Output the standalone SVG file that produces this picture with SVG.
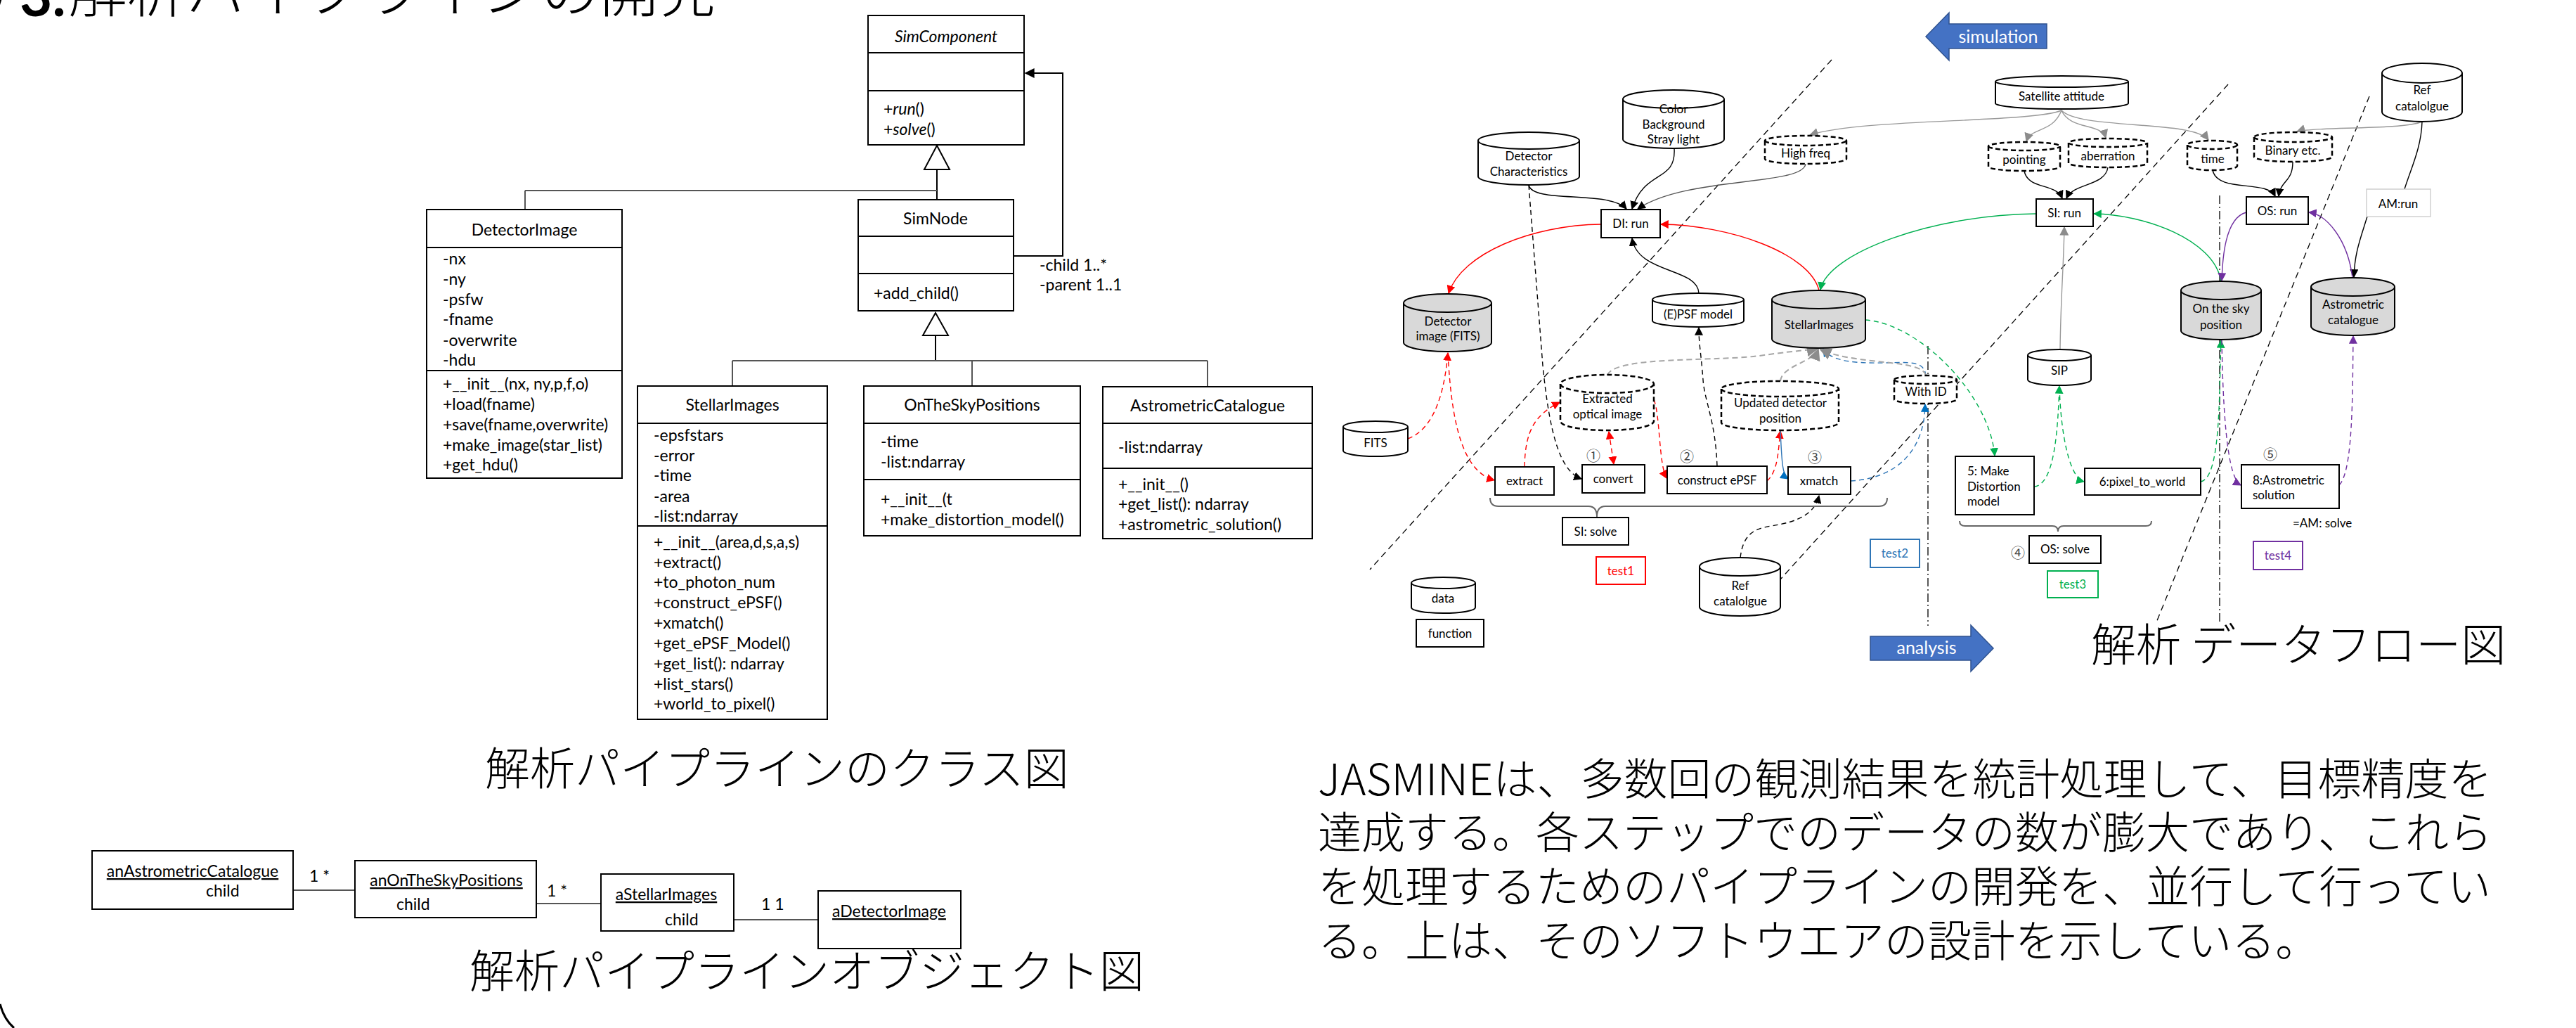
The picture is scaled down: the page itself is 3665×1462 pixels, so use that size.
<svg xmlns="http://www.w3.org/2000/svg" width="3665" height="1462" viewBox="0 0 3665 1462">
<defs>
  <style>
    .bx{fill:#fff;stroke:#000;stroke-width:2}
    .ln{fill:none;stroke:#000;stroke-width:2}
    .cy{fill:#fff;stroke:#000;stroke-width:2}
    .cg{fill:#D9D9D9}
    .cd{stroke-dasharray:7 4;stroke-width:2.5}
    .top{fill:none}
    .uml{font-family:Lato,"Liberation Sans",sans-serif;font-size:23px;fill:#000}
    .df{font-family:Lato,"Liberation Sans",sans-serif;font-size:17px;fill:#000}
    .big{font-size:25px;fill:#fff}
    .mid{text-anchor:middle}
    .jp{font-family:"Noto Sans CJK JP","Noto Sans",sans-serif;fill:#000}
    .lt{font-weight:300}
    .c{fill:none;stroke-width:1.4}
    .k{stroke:#000}
    .g{stroke:#999}
    .r{stroke:#FF0000}
    .b{stroke:#2E75B6}
    .gr{stroke:#00B050}
    .p{stroke:#7030A0}
    .d{stroke-dasharray:7 5}
    .gd{stroke:#A6A6A6;stroke-width:2;stroke-dasharray:8 5}
    .sep{fill:none;stroke:#000;stroke-width:1.3;stroke-dasharray:9 6}
    .dd{fill:none;stroke:#000;stroke-width:1.3;stroke-dasharray:12 4 2 4}
    .brace{fill:none;stroke:#666;stroke-width:2}
  </style>
  <marker id="ak" viewBox="0 0 10 10" refX="9" refY="5" markerWidth="12" markerHeight="12" markerUnits="userSpaceOnUse" orient="auto-start-reverse"><path d="M0,0 L10,5 L0,10 z" fill="#000"/></marker>
  <marker id="ag" viewBox="0 0 10 10" refX="9" refY="5" markerWidth="13" markerHeight="13" markerUnits="userSpaceOnUse" orient="auto-start-reverse"><path d="M0,0 L10,5 L0,10 z" fill="#8C8C8C"/></marker>
  <marker id="ar" viewBox="0 0 10 10" refX="9" refY="5" markerWidth="12" markerHeight="12" markerUnits="userSpaceOnUse" orient="auto-start-reverse"><path d="M0,0 L10,5 L0,10 z" fill="#FF0000"/></marker>
  <marker id="ab" viewBox="0 0 10 10" refX="9" refY="5" markerWidth="12" markerHeight="12" markerUnits="userSpaceOnUse" orient="auto-start-reverse"><path d="M0,0 L10,5 L0,10 z" fill="#0070C0"/></marker>
  <marker id="agr" viewBox="0 0 10 10" refX="9" refY="5" markerWidth="12" markerHeight="12" markerUnits="userSpaceOnUse" orient="auto-start-reverse"><path d="M0,0 L10,5 L0,10 z" fill="#00B050"/></marker>
  <marker id="ap" viewBox="0 0 10 10" refX="9" refY="5" markerWidth="12" markerHeight="12" markerUnits="userSpaceOnUse" orient="auto-start-reverse"><path d="M0,0 L10,5 L0,10 z" fill="#7030A0"/></marker>
  <marker id="agd" viewBox="0 0 10 10" refX="9" refY="5" markerWidth="17" markerHeight="17" markerUnits="userSpaceOnUse" orient="auto-start-reverse"><path d="M0,0 L10,5 L0,10 z" fill="#8C8C8C"/></marker>
  <marker id="auml" viewBox="0 0 10 10" refX="9" refY="5" markerWidth="14" markerHeight="14" markerUnits="userSpaceOnUse" orient="auto"><path d="M0,0 L10,5 L0,10 z" fill="#000"/></marker>
</defs>
<rect width="3665" height="1462" fill="#fff"/>

<!-- slide title, mostly above the top edge -->
<g id="title">
  <text x="-16" y="23" class="jp" font-size="84">/</text>
  <text x="28" y="23" font-family="Lato,'Liberation Sans',sans-serif" font-weight="bold" font-size="80">3.</text>
  <text x="97" y="17" class="jp lt" font-size="84">解析パイプラインの開発</text>
</g>
<path d="M0,1428 Q6,1450 20,1462" fill="none" stroke="#000" stroke-width="3"/>

<!-- ================= class diagram ================= -->
<g id="class-connectors" fill="none" stroke="#000" stroke-width="2">
  <polygon points="1333,207 1315,241 1351,241" fill="#fff"/>
  <path d="M1333,241 L1333,284"/>
  <path d="M747,271 L1333,271 M747,271 L747,298" stroke="#555"/>
  <path d="M1442,364 L1512,364 L1512,104 L1459,104" marker-end="url(#auml)"/>
  <polygon points="1331,445 1313,477 1349,477" fill="#fff"/>
  <path d="M1331,477 L1331,513"/>
  <path d="M1042,513 L1718,513 M1042,513 L1042,549 M1383,513 L1383,549 M1718,513 L1718,550" stroke="#555"/>
</g>
<text class="uml" x="1479" y="385">-child 1..*</text>
<text class="uml" x="1479" y="413">-parent 1..1</text>

<g id="SimComponent">
  <rect class="bx" x="1235" y="22" width="222" height="184"/>
  <path class="ln" d="M1235,75 H1457 M1235,129 H1457"/>
  <text class="uml mid" x="1346" y="60" font-style="italic">SimComponent</text>
  <text class="uml" x="1257" y="163">+<tspan font-style="italic">run</tspan>()</text>
  <text class="uml" x="1257" y="192">+<tspan font-style="italic">solve</tspan>()</text>
</g>
<g id="SimNode">
  <rect class="bx" x="1221" y="284" width="221" height="158"/>
  <path class="ln" d="M1221,336 H1442 M1221,389 H1442"/>
  <text class="uml mid" x="1331" y="319">SimNode</text>
  <text class="uml" x="1243" y="425">+add_child()</text>
</g>
<g id="DetectorImage">
  <rect class="bx" x="607" y="298" width="278" height="382"/>
  <path class="ln" d="M607,352 H885 M607,527 H885"/>
  <text class="uml mid" x="746" y="335">DetectorImage</text>
  <text class="uml" x="630" y="376">-nx</text>
  <text class="uml" x="630" y="405">-ny</text>
  <text class="uml" x="630" y="434">-psfw</text>
  <text class="uml" x="630" y="462">-fname</text>
  <text class="uml" x="630" y="492">-overwrite</text>
  <text class="uml" x="630" y="520">-hdu</text>
  <text class="uml" x="630" y="554">+__init__(nx, ny,p,f,o)</text>
  <text class="uml" x="630" y="583">+load(fname)</text>
  <text class="uml" x="630" y="612">+save(fname,overwrite)</text>
  <text class="uml" x="630" y="641">+make_image(star_list)</text>
  <text class="uml" x="630" y="669">+get_hdu()</text>
</g>
<g id="StellarImages">
  <rect class="bx" x="907" y="549" width="270" height="474"/>
  <path class="ln" d="M907,602 H1177 M907,748 H1177"/>
  <text class="uml mid" x="1042" y="584">StellarImages</text>
  <text class="uml" x="930" y="627">-epsfstars</text>
  <text class="uml" x="930" y="656">-error</text>
  <text class="uml" x="930" y="684">-time</text>
  <text class="uml" x="930" y="714">-area</text>
  <text class="uml" x="930" y="742">-list:ndarray</text>
  <text class="uml" x="930" y="779">+__init__(area,d,s,a,s)</text>
  <text class="uml" x="930" y="808">+extract()</text>
  <text class="uml" x="930" y="836">+to_photon_num</text>
  <text class="uml" x="930" y="865">+construct_ePSF()</text>
  <text class="uml" x="930" y="894">+xmatch()</text>
  <text class="uml" x="930" y="923">+get_ePSF_Model()</text>
  <text class="uml" x="930" y="952">+get_list(): ndarray</text>
  <text class="uml" x="930" y="981">+list_stars()</text>
  <text class="uml" x="930" y="1009">+world_to_pixel()</text>
</g>
<g id="OnTheSkyPositions">
  <rect class="bx" x="1229" y="549" width="308" height="213"/>
  <path class="ln" d="M1229,602 H1537 M1229,682 H1537"/>
  <text class="uml mid" x="1383" y="584">OnTheSkyPositions</text>
  <text class="uml" x="1253" y="636">-time</text>
  <text class="uml" x="1253" y="665">-list:ndarray</text>
  <text class="uml" x="1253" y="718">+__init__(t</text>
  <text class="uml" x="1253" y="747">+make_distortion_model()</text>
</g>
<g id="AstrometricCatalogue">
  <rect class="bx" x="1569" y="550" width="298" height="216"/>
  <path class="ln" d="M1569,602 H1867 M1569,666 H1867"/>
  <text class="uml mid" x="1718" y="585">AstrometricCatalogue</text>
  <text class="uml" x="1591" y="644">-list:ndarray</text>
  <text class="uml" x="1591" y="697">+__init__()</text>
  <text class="uml" x="1591" y="725">+get_list(): ndarray</text>
  <text class="uml" x="1591" y="754">+astrometric_solution()</text>
</g>
<text class="jp lt" x="690" y="1116" font-size="64">解析パイプラインのクラス図</text>

<!-- ================= object diagram ================= -->
<g id="object-links" fill="none" stroke="#555" stroke-width="2">
  <path d="M365,1266 L505,1266"/>
  <path d="M633,1285 L855,1285"/>
  <path d="M1018,1308 L1164,1308"/>
</g>
<text class="uml" x="440" y="1254">1 *</text>
<text class="uml" x="778" y="1275">1 *</text>
<text class="uml" x="1083" y="1294">1  1</text>
<g id="anAstrometricCatalogue">
  <rect class="bx" x="131" y="1210" width="286" height="83" stroke-width="2.5"/>
  <text class="uml mid" x="274" y="1247" text-decoration="underline">anAstrometricCatalogue</text>
  <text class="uml" x="293" y="1275">child</text>
</g>
<g id="anOnTheSkyPositions">
  <rect class="bx" x="505" y="1224" width="258" height="81" stroke-width="2.5"/>
  <text class="uml mid" x="635" y="1260" text-decoration="underline">anOnTheSkyPositions</text>
  <text class="uml" x="564" y="1294">child</text>
</g>
<g id="aStellarImages">
  <rect class="bx" x="855" y="1243" width="189" height="81" stroke-width="2.5"/>
  <text class="uml mid" x="948" y="1280" text-decoration="underline">aStellarImages</text>
  <text class="uml" x="946" y="1316">child</text>
</g>
<g id="aDetectorImage">
  <rect class="bx" x="1164" y="1267" width="203" height="82" stroke-width="2.5"/>
  <text class="uml mid" x="1265" y="1304" text-decoration="underline">aDetectorImage</text>
</g>
<text class="jp lt" x="668" y="1404" font-size="64">解析パイプラインオブジェクト図</text>

<!-- ================= data flow diagram ================= -->
<g id="separators">
  <path class="sep" d="M2606,85 L1949,810"/>
  <path class="sep" d="M3170,120 L2514,845"/>
  <path class="sep" d="M3371,137 L3068,885"/>
  <path class="dd" d="M2743,492 L2743,890"/>
  <path class="dd" d="M3158,278 L3158,887"/>
</g>

<g id="flow-connectors">
  <!-- attitude and catalogue inputs -->
  <path class="c g" d="M2933,157 C2890,175 2650,168 2575,192" marker-end="url(#ag)"/>
  <path class="c g" d="M2933,157 C2920,190 2890,180 2883,201" marker-end="url(#ag)"/>
  <path class="c g" d="M2933,157 C2945,185 2990,175 2996,196" marker-end="url(#ag)"/>
  <path class="c g" d="M2933,157 C2960,185 3120,170 3142,199" marker-end="url(#ag)"/>
  <path class="c g" d="M3446,173 C3420,185 3290,180 3268,187" marker-end="url(#ag)"/>
  <path class="c g" d="M2931,497 C2932,420 2936,380 2937,323" marker-end="url(#ag)"/>
  <!-- run inputs -->
  <path class="c k" d="M2175,263 C2180,290 2290,270 2314,297" marker-end="url(#ak)"/>
  <path class="c k" d="M2382,211 C2385,260 2340,240 2322,297" marker-end="url(#ak)"/>
  <path class="c" stroke="#555" d="M2569,233 C2565,265 2400,250 2330,297" marker-end="url(#ak)"/>
  <path class="c k" d="M2417,417 C2415,380 2330,390 2322,339" marker-end="url(#ak)"/>
  <path class="c k" d="M2880,243 C2885,270 2925,260 2934,282" marker-end="url(#ak)"/>
  <path class="c k" d="M2999,238 C2995,265 2950,260 2940,282" marker-end="url(#ak)"/>
  <path class="c k" d="M3148,242 C3155,275 3225,255 3237,279" marker-end="url(#ak)"/>
  <path class="c k" d="M3262,230 C3262,260 3245,255 3242,279" marker-end="url(#ak)"/>
  <path class="c k" d="M3446,173 C3445,210 3430,240 3421,269"/>
  <path class="c k" d="M3368,308 C3358,340 3350,360 3349,394" marker-end="url(#ak)"/>
  <!-- black dashed -->
  <path class="c k d" d="M2175,263 L2195,520 C2205,620 2220,670 2250,681" marker-end="url(#ak)"/>
  <path class="c k d" d="M2443,663 C2441,600 2425,570 2423,540 C2420,500 2417,490 2417,466" marker-end="url(#ak)"/>
  <path class="c k d" d="M2476,793 C2480,760 2495,752 2520,748 C2560,742 2582,730 2588,705" marker-end="url(#ak)"/>
  <!-- red: detector image -->
  <path class="c r" d="M2278,319 C2180,320 2080,360 2061,417" marker-end="url(#ar)"/>
  <path class="c r" d="M2588,413 C2575,360 2460,320 2363,319" marker-end="url(#ar)"/>
  <path class="c r d" d="M2003,624 C2040,610 2055,560 2060,502" marker-end="url(#ar)"/>
  <path class="c r d" d="M2060,502 C2065,600 2080,670 2126,683" marker-end="url(#ar)"/>
  <path class="c r d" d="M2169,664 C2170,610 2185,590 2219,572" marker-end="url(#ar)"/>
  <path class="c r d" d="M2289,614 L2296,660" marker-start="url(#ar)" marker-end="url(#ar)"/>
  <path class="c r d" d="M2353,568 C2362,590 2360,660 2371,680" marker-end="url(#ar)"/>
  <path class="c r d" d="M2514,684 C2530,670 2530,640 2533,613" marker-end="url(#ar)"/>
  <!-- blue: cross match -->
  <path class="c b" d="M2533,613 C2535,650 2535,675 2544,681" marker-end="url(#ab)"/>
  <path class="c b d" d="M2633,684 C2700,680 2738,640 2739,575" marker-end="url(#ab)"/>
  <path class="c b d" d="M2740,535 C2738,505 2700,520 2640,515 C2610,512 2600,505 2594,496" marker-end="url(#ab)"/>
  <!-- grey dashed: results back to StellarImages -->
  <path class="gd" fill="none" d="M2287,533 C2300,505 2450,515 2510,505 C2560,498 2575,498 2586,496" marker-end="url(#agd)"/>
  <path class="gd" fill="none" d="M2533,542 C2535,520 2580,515 2587,497" marker-end="url(#agd)"/>
  <path class="gd" fill="none" d="M2740,534 C2735,510 2640,520 2590,497" marker-end="url(#agd)"/>
  <!-- green: stellar images / on-sky positions -->
  <path class="c gr" d="M2897,304 C2750,305 2600,360 2590,412" marker-end="url(#agr)"/>
  <path class="c gr" d="M3160,400 C3150,340 3050,305 2979,304" marker-end="url(#agr)"/>
  <path class="c gr d" d="M2654,455 C2730,460 2830,560 2838,648" marker-end="url(#agr)"/>
  <path class="c gr d" d="M2894,692 C2925,690 2928,600 2930,549" marker-end="url(#agr)"/>
  <path class="c gr d" d="M2930,550 C2932,620 2945,680 2965,685" marker-end="url(#agr)"/>
  <path class="c gr d" d="M3131,685 C3160,680 3157,560 3160,484" marker-end="url(#agr)"/>
  <!-- purple: astrometric catalogue -->
  <path class="c p" d="M3196,302 C3165,310 3162,370 3161,399" marker-end="url(#ap)"/>
  <path class="c p" d="M3347,395 C3340,340 3310,305 3285,302" marker-end="url(#ap)"/>
  <path class="c p d" d="M3161,484 C3163,600 3170,680 3188,690" marker-end="url(#ap)"/>
  <path class="c p d" d="M3328,690 C3348,670 3347,560 3348,478" marker-end="url(#ap)"/>
  <!-- braces -->
  <path class="brace" d="M2120,708 Q2120,720 2132,720 L2260,720 Q2272,720 2272,735 Q2272,720 2284,720 L2673,720 Q2685,720 2685,708"/>
  <path class="brace" d="M2788,741 Q2788,748 2796,748 L2920,748 Q2928,748 2928,756 Q2928,748 2936,748 L3053,748 Q3061,748 3061,741"/>
</g>

<!-- direction arrows -->
<g id="simulation">
  <polygon points="2740,52 2773,18 2773,34 2912,34 2912,69 2773,69 2773,86" fill="#4472C4" stroke="#2F528F" stroke-width="1.5"/>
  <text class="df big mid" x="2843" y="61">simulation</text>
</g>
<g id="analysis">
  <polygon points="2661,905 2804,905 2804,889 2836,922 2804,955 2804,939 2661,939" fill="#4472C4" stroke="#2F528F" stroke-width="1.5"/>
  <text class="df big mid" x="2741" y="930">analysis</text>
</g>

<!-- data stores -->
<g id="ColorBackground">
  <path class="cy" d="M2309,141 L2309,198 A72,13 0 0 0 2453,198 L2453,141 A72,13 0 0 0 2309,141 Z"/>
  <path class="cy top" d="M2309,141 A72,13 0 0 0 2453,141"/>
  <text class="df mid" x="2381" y="161">Color</text>
  <text class="df mid" x="2381" y="183">Background</text>
  <text class="df mid" x="2381" y="204">Stray light</text>
</g>
<g id="DetectorCharacteristics">
  <path class="cy" d="M2103,200 L2103,251 A72,12 0 0 0 2247,251 L2247,200 A72,12 0 0 0 2103,200 Z"/>
  <path class="cy top" d="M2103,200 A72,12 0 0 0 2247,200"/>
  <text class="df mid" x="2175" y="228">Detector</text>
  <text class="df mid" x="2175" y="250">Characteristics</text>
</g>
<g id="HighFreq">
  <path class="cy cd" d="M2511,200 L2511,226 A58,7 0 0 0 2627,226 L2627,200 A58,7 0 0 0 2511,200 Z"/>
  <path class="cy cd top" d="M2511,200 A58,7 0 0 0 2627,200"/>
  <text class="df mid" x="2569" y="224">High freq</text>
</g>
<g id="SatelliteAttitude">
  <path class="cy" d="M2839,116 L2839,147 A94.5,8 0 0 0 3028,147 L3028,116 A94.5,8 0 0 0 2839,116 Z"/>
  <path class="cy top" d="M2839,116 A94.5,8 0 0 0 3028,116"/>
  <text class="df mid" x="2933" y="143">Satellite attitude</text>
</g>
<g id="pointing">
  <path class="cy cd" d="M2829,208 L2829,237 A51,6 0 0 0 2931,237 L2931,208 A51,6 0 0 0 2829,208 Z"/>
  <path class="cy cd top" d="M2829,208 A51,6 0 0 0 2931,208"/>
  <text class="df mid" x="2880" y="233">pointing</text>
</g>
<g id="aberration">
  <path class="cy cd" d="M2943,203 L2943,232 A56,6 0 0 0 3055,232 L3055,203 A56,6 0 0 0 2943,203 Z"/>
  <path class="cy cd top" d="M2943,203 A56,6 0 0 0 3055,203"/>
  <text class="df mid" x="2999" y="228">aberration</text>
</g>
<g id="time">
  <path class="cy cd" d="M3112,206 L3112,236 A35.5,6 0 0 0 3183,236 L3183,206 A35.5,6 0 0 0 3112,206 Z"/>
  <path class="cy cd top" d="M3112,206 A35.5,6 0 0 0 3183,206"/>
  <text class="df mid" x="3148" y="232">time</text>
</g>
<g id="BinaryEtc">
  <path class="cy cd" d="M3207,195 L3207,223 A55.5,7 0 0 0 3318,223 L3318,195 A55.5,7 0 0 0 3207,195 Z"/>
  <path class="cy cd top" d="M3207,195 A55.5,7 0 0 0 3318,195"/>
  <text class="df mid" x="3262" y="220">Binary etc.</text>
</g>
<g id="RefCatalogueTop">
  <path class="cy" d="M3389,104 L3389,159 A57,14 0 0 0 3503,159 L3503,104 A57,14 0 0 0 3389,104 Z"/>
  <path class="cy top" d="M3389,104 A57,14 0 0 0 3503,104"/>
  <text class="df mid" x="3446" y="134">Ref</text>
  <text class="df mid" x="3446" y="157">catalolgue</text>
</g>
<g id="DetectorImageFITS">
  <path class="cy cg" d="M1997,431 L1997,487 A62.5,13 0 0 0 2122,487 L2122,431 A62.5,13 0 0 0 1997,431 Z"/>
  <path class="cy top" d="M1997,431 A62.5,13 0 0 0 2122,431"/>
  <text class="df mid" x="2060" y="463">Detector</text>
  <text class="df mid" x="2060" y="484">image (FITS)</text>
</g>
<g id="EPSFModel">
  <path class="cy" d="M2351,426 L2351,456 A65,9 0 0 0 2481,456 L2481,426 A65,9 0 0 0 2351,426 Z"/>
  <path class="cy top" d="M2351,426 A65,9 0 0 0 2481,426"/>
  <text class="df mid" x="2416" y="453">(E)PSF model</text>
</g>
<g id="StellarImagesData">
  <path class="cy cg" d="M2521,426 L2521,482 A66.5,13 0 0 0 2654,482 L2654,426 A66.5,13 0 0 0 2521,426 Z"/>
  <path class="cy top" d="M2521,426 A66.5,13 0 0 0 2654,426"/>
  <text class="df mid" x="2588" y="468">StellarImages</text>
</g>
<g id="OnTheSkyPosition">
  <path class="cy cg" d="M3103,413 L3103,470 A57,13 0 0 0 3217,470 L3217,413 A57,13 0 0 0 3103,413 Z"/>
  <path class="cy top" d="M3103,413 A57,13 0 0 0 3217,413"/>
  <text class="df mid" x="3160" y="445">On the sky</text>
  <text class="df mid" x="3160" y="468">position</text>
</g>
<g id="AstrometricCatalogueData">
  <path class="cy cg" d="M3288,408 L3288,464 A59.5,13 0 0 0 3407,464 L3407,408 A59.5,13 0 0 0 3288,408 Z"/>
  <path class="cy top" d="M3288,408 A59.5,13 0 0 0 3407,408"/>
  <text class="df mid" x="3348" y="439">Astrometric</text>
  <text class="df mid" x="3348" y="461">catalogue</text>
</g>
<g id="FITS">
  <path class="cy" d="M1911,607 L1911,641 A46,8 0 0 0 2003,641 L2003,607 A46,8 0 0 0 1911,607 Z"/>
  <path class="cy top" d="M1911,607 A46,8 0 0 0 2003,607"/>
  <text class="df mid" x="1957" y="636">FITS</text>
</g>
<g id="ExtractedOpticalImage">
  <path class="cy cd" d="M2220,546 L2220,599 A66.5,13 0 0 0 2353,599 L2353,546 A66.5,13 0 0 0 2220,546 Z"/>
  <path class="cy cd top" d="M2220,546 A66.5,13 0 0 0 2353,546"/>
  <text class="df mid" x="2287" y="573">Extracted</text>
  <text class="df mid" x="2287" y="595">optical image</text>
</g>
<g id="UpdatedDetectorPosition">
  <path class="cy cd" d="M2449,553 L2449,601 A83.5,11 0 0 0 2616,601 L2616,553 A83.5,11 0 0 0 2449,553 Z"/>
  <path class="cy cd top" d="M2449,553 A83.5,11 0 0 0 2616,553"/>
  <text class="df mid" x="2533" y="579">Updated detector</text>
  <text class="df mid" x="2533" y="601">position</text>
</g>
<g id="WithID">
  <path class="cy cd" d="M2695,540 L2695,568 A44.5,6 0 0 0 2784,568 L2784,540 A44.5,6 0 0 0 2695,540 Z"/>
  <path class="cy cd top" d="M2695,540 A44.5,6 0 0 0 2784,540"/>
  <text class="df mid" x="2740" y="563">With ID</text>
</g>
<g id="SIP">
  <path class="cy" d="M2885,505 L2885,540 A45,8 0 0 0 2975,540 L2975,505 A45,8 0 0 0 2885,505 Z"/>
  <path class="cy top" d="M2885,505 A45,8 0 0 0 2975,505"/>
  <text class="df mid" x="2930" y="533">SIP</text>
</g>
<g id="RefCatalogueBottom">
  <path class="cy" d="M2418,806 L2418,863 A57.5,13 0 0 0 2533,863 L2533,806 A57.5,13 0 0 0 2418,806 Z"/>
  <path class="cy top" d="M2418,806 A57.5,13 0 0 0 2533,806"/>
  <text class="df mid" x="2476" y="839">Ref</text>
  <text class="df mid" x="2476" y="861">catalolgue</text>
</g>
<g id="legend-data">
  <path class="cy" d="M2008,829 L2008,864 A45.5,8 0 0 0 2099,864 L2099,829 A45.5,8 0 0 0 2008,829 Z"/>
  <path class="cy top" d="M2008,829 A45.5,8 0 0 0 2099,829"/>
  <text class="df mid" x="2053" y="857">data</text>
</g>

<!-- functions -->
<g id="DIrun"><rect class="bx" x="2278" y="298" width="84" height="40"/><text class="df mid" x="2320" y="324">DI: run</text></g>
<g id="SIrun"><rect class="bx" x="2897" y="283" width="81" height="39"/><text class="df mid" x="2937" y="309">SI: run</text></g>
<g id="OSrun"><rect class="bx" x="3196" y="280" width="88" height="39"/><text class="df mid" x="3240" y="306">OS: run</text></g>
<g id="AMrun"><rect x="3367" y="269" width="91" height="39" fill="#fff" stroke="#D0D0D0" stroke-width="1.5"/><text class="df mid" x="3412" y="296">AM:run</text></g>
<g id="extract"><rect class="bx" x="2127" y="664" width="84" height="40"/><text class="df mid" x="2169" y="690">extract</text></g>
<g id="convert"><rect class="bx" x="2251" y="661" width="89" height="40"/><text class="df mid" x="2295" y="687">convert</text></g>
<g id="constructEPSF"><rect class="bx" x="2372" y="663" width="142" height="39"/><text class="df mid" x="2443" y="689">construct ePSF</text></g>
<g id="xmatch"><rect class="bx" x="2544" y="664" width="89" height="39"/><text class="df mid" x="2588" y="690">xmatch</text></g>
<g id="SIsolve"><rect class="bx" x="2223" y="736" width="94" height="39"/><text class="df mid" x="2270" y="762">SI: solve</text></g>
<g id="legend-function"><rect class="bx" x="2015" y="881" width="96" height="39"/><text class="df mid" x="2063" y="907">function</text></g>
<g id="MakeDistortion"><rect class="bx" x="2782" y="649" width="112" height="83"/>
  <text class="df" x="2799" y="676">5: Make</text><text class="df" x="2799" y="698">Distortion</text><text class="df" x="2799" y="719">model</text></g>
<g id="pixelToWorld"><rect class="bx" x="2966" y="666" width="165" height="38"/><text class="df mid" x="3048" y="691">6:pixel_to_world</text></g>
<g id="AstrometricSolution"><rect class="bx" x="3189" y="661" width="139" height="62"/>
  <text class="df" x="3205" y="689">8:Astrometric</text><text class="df" x="3205" y="710">solution</text></g>
<g id="OSsolve"><rect class="bx" x="2887" y="762" width="102" height="39"/><text class="df mid" x="2938" y="787">OS: solve</text></g>
<text class="df" x="3262" y="750">=AM: solve</text>

<!-- tests -->
<g id="test1"><rect x="2271" y="792" width="70" height="39" fill="#fff" stroke="#FF0000" stroke-width="2"/><text class="df mid" x="2306" y="818" style="fill:#FF0000">test1</text></g>
<g id="test2"><rect x="2661" y="767" width="70" height="40" fill="#fff" stroke="#2E75B6" stroke-width="2"/><text class="df mid" x="2696" y="793" style="fill:#2E75B6">test2</text></g>
<g id="test3"><rect x="2913" y="812" width="72" height="38" fill="#fff" stroke="#00B050" stroke-width="2"/><text class="df mid" x="2949" y="837" style="fill:#00B050">test3</text></g>
<g id="test4"><rect x="3206" y="770" width="70" height="40" fill="#fff" stroke="#7030A0" stroke-width="2"/><text class="df mid" x="3241" y="796" style="fill:#7030A0">test4</text></g>

<!-- step numbers -->
<g class="jp" font-size="20" text-anchor="middle" style="fill:#444">
  <text x="2267" y="656">①</text>
  <text x="2400" y="657">②</text>
  <text x="2582" y="658">③</text>
  <text x="2871" y="794">④</text>
  <text x="3230" y="654">⑤</text>
</g>

<text class="jp lt" x="2975" y="940" font-size="64">解析 データフロー図</text>

<!-- description -->
<g class="jp lt" font-size="62">
  <text x="1875" y="1131">JASMINEは、多数回の観測結果を統計処理して、目標精度を</text>
  <text x="1875" y="1207">達成する。各ステップでのデータの数が膨大であり、これら</text>
  <text x="1875" y="1284">を処理するためのパイプラインの開発を、並行して行ってい</text>
  <text x="1875" y="1361">る。上は、そのソフトウエアの設計を示している。</text>
</g>
</svg>
